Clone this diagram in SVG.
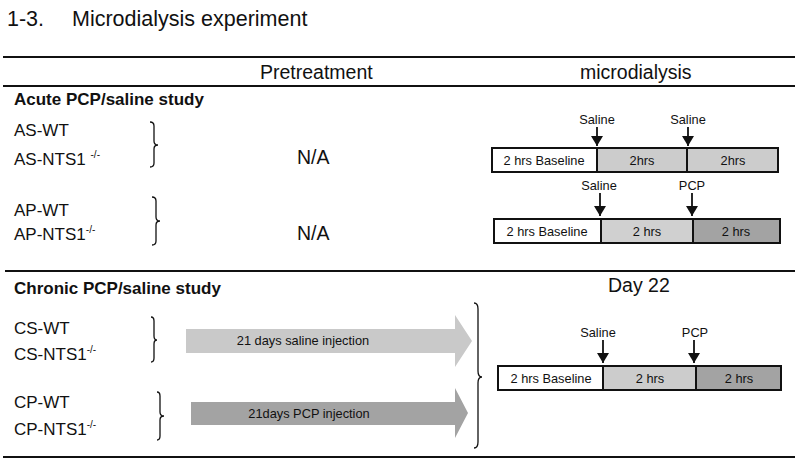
<svg xmlns="http://www.w3.org/2000/svg" width="800" height="466" viewBox="0 0 800 466">
<defs>
<style>
text{font-family:"Liberation Sans",Arial,sans-serif;fill:#111}
.t{font-size:21.5px}
.h{font-size:19.5px}
.b{font-size:17px;font-weight:bold}
.g{font-size:17px}
.sup{font-size:10px}
.s{font-size:12.8px}
.rule{stroke:#111;stroke-width:2}
.brace{fill:none;stroke:#111;stroke-width:1.3}
.seg{stroke:#111;stroke-width:2}
.inj{stroke:#111;stroke-width:1.8}
</style>
<marker id="ah" viewBox="0 0 10 12" refX="10" refY="6" markerWidth="10" markerHeight="12" orient="auto" markerUnits="userSpaceOnUse">
<path d="M0,0 L10,6 L0,12 z" fill="#111"/>
</marker>
</defs>
<rect width="800" height="466" fill="#fff"/>
<text class="t" x="7" y="26">1-3.</text>
<text class="t" x="72" y="26">Microdialysis experiment</text>
<g id="rules">
<line class="rule" x1="3" y1="57" x2="795" y2="57"/>
<line class="rule" x1="3" y1="86" x2="795" y2="86"/>
<line class="rule" x1="5" y1="271" x2="795" y2="271"/>
<line class="rule" x1="3" y1="457" x2="795" y2="457"/>
</g>
<text class="h" x="260" y="79">Pretreatment</text>
<text class="h" x="580" y="79">microdialysis</text>
<text class="b" x="14" y="105">Acute PCP/saline study</text>
<text class="b" x="14" y="294">Chronic PCP/saline study</text>
<text class="h" x="608" y="292">Day 22</text>

<g id="acute-saline">
<text class="g" x="14" y="136">AS-WT</text>
<text class="g" x="14" y="165">AS-NTS1 <tspan class="sup" dy="-7">-/-</tspan></text>
<path class="brace" d="M150,122 Q154,122 154,126 L154,141 Q154,145 158,145 Q154,145 154,149 L154,163 Q154,167 150,167"/>
<text class="h" x="297" y="164">N/A</text>
</g>
<g id="acute-pcp">
<text class="g" x="14" y="216">AP-WT</text>
<text class="g" x="14" y="240">AP-NTS1<tspan class="sup" dy="-7">-/-</tspan></text>
<path class="brace" d="M152,197 Q156,197 156,201 L156,217 Q156,221 160,221 Q156,221 156,225 L156,241 Q156,245 152,245"/>
<text class="h" x="297" y="240">N/A</text>
</g>
<g id="chronic-saline">
<text class="g" x="14" y="334">CS-WT</text>
<text class="g" x="14" y="360">CS-NTS1<tspan class="sup" dy="-7">-/-</tspan></text>
<path class="brace" d="M151,317 Q154,317 154,321 L154,336 Q154,340 157,340 Q154,340 154,344 L154,358 Q154,362 151,362"/>
<polygon points="186,329 455,329 455,315 472,341 455,367 455,353 186,353" fill="#c9c9c9"/>
<text class="s" x="303" y="345" text-anchor="middle">21 days saline injection</text>
</g>
<g id="chronic-pcp">
<text class="g" x="14" y="408">CP-WT</text>
<text class="g" x="14" y="435">CP-NTS1<tspan class="sup" dy="-7">-/-</tspan></text>
<path class="brace" d="M157,392 Q160,392 160,396 L160,412 Q160,416 164,416 Q160,416 160,420 L160,436 Q160,440 157,440"/>
<polygon points="191,402 455,402 455,388 468,413 455,438 455,425 191,425" fill="#a3a3a3"/>
<text class="s" x="309" y="418" text-anchor="middle">21days PCP injection</text>
</g>
<path id="day22-brace" class="brace" d="M474,303 Q478,303 478,309 L478,371 Q478,377 482,377 Q478,377 478,383 L478,442 Q478,448 474,448"/>

<g id="timeline-acute-saline">
<rect x="492" y="148" width="105" height="24" fill="#fff" class="seg"/>
<rect x="597" y="148" width="90" height="24" fill="#cccccc" class="seg"/>
<rect x="687" y="148" width="91" height="24" fill="#cccccc" class="seg"/>
<text class="s" x="544" y="165" text-anchor="middle">2 hrs Baseline</text>
<text class="s" x="642" y="165" text-anchor="middle">2hrs</text>
<text class="s" x="733" y="165" text-anchor="middle">2hrs</text>
</g>
<g id="timeline-acute-pcp">
<rect x="494" y="219" width="107" height="24" fill="#fff" class="seg"/>
<rect x="601" y="219" width="92" height="24" fill="#d0d0d0" class="seg"/>
<rect x="693" y="219" width="87" height="24" fill="#a3a3a3" class="seg"/>
<text class="s" x="547" y="236" text-anchor="middle">2 hrs Baseline</text>
<text class="s" x="647" y="236" text-anchor="middle">2 hrs</text>
<text class="s" x="736" y="236" text-anchor="middle">2 hrs</text>
</g>
<g id="timeline-chronic">
<rect x="498" y="366" width="105" height="24" fill="#fff" class="seg"/>
<rect x="603" y="366" width="93" height="24" fill="#cccccc" class="seg"/>
<rect x="696" y="366" width="85" height="24" fill="#a3a3a3" class="seg"/>
<text class="s" x="551" y="383" text-anchor="middle">2 hrs Baseline</text>
<text class="s" x="650" y="383" text-anchor="middle">2 hrs</text>
<text class="s" x="739" y="383" text-anchor="middle">2 hrs</text>
</g>

<g id="injections">
<text class="s" x="597" y="124" text-anchor="middle">Saline</text>
<line class="inj" x1="597" y1="127" x2="597" y2="146" marker-end="url(#ah)"/>
<text class="s" x="688" y="124" text-anchor="middle">Saline</text>
<line class="inj" x1="688" y1="127" x2="688" y2="146" marker-end="url(#ah)"/>
<text class="s" x="599" y="190" text-anchor="middle">Saline</text>
<line class="inj" x1="600" y1="193" x2="600" y2="216" marker-end="url(#ah)"/>
<text class="s" x="692" y="190" text-anchor="middle">PCP</text>
<line class="inj" x1="692" y1="193" x2="692" y2="216" marker-end="url(#ah)"/>
<text class="s" x="598" y="337" text-anchor="middle">Saline</text>
<line class="inj" x1="603" y1="340" x2="603" y2="363" marker-end="url(#ah)"/>
<text class="s" x="695" y="337" text-anchor="middle">PCP</text>
<line class="inj" x1="694" y1="340" x2="694" y2="363" marker-end="url(#ah)"/>
</g>
</svg>
